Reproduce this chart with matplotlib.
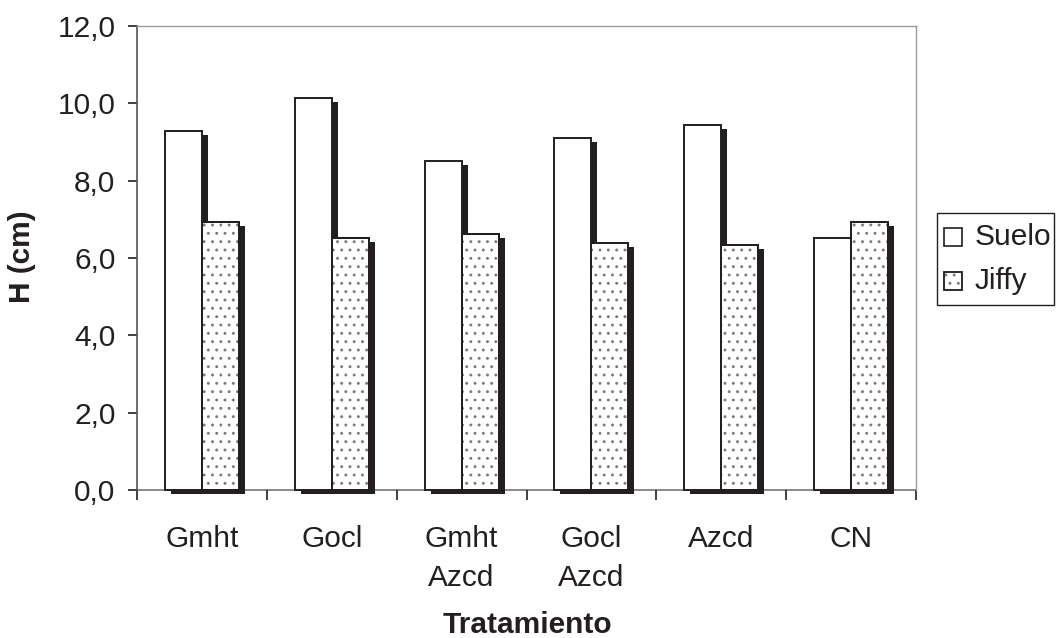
import matplotlib
matplotlib.use("Agg")
import matplotlib.pyplot as plt
import matplotlib.patheffects as pe
from matplotlib.patches import Rectangle
import numpy as np

plt.rcParams['font.family'] = ['Liberation Sans', 'DejaVu Sans']
plt.rcParams['hatch.linewidth'] = 0.9

categories = ['Gmht', 'Gocl', 'Gmht\nAzcd', 'Gocl\nAzcd', 'Azcd', 'CN']
suelo = [9.28, 10.14, 8.51, 9.10, 9.44, 6.52]
jiffy = [6.93, 6.52, 6.62, 6.39, 6.34, 6.93]
yticks = [0, 2, 4, 6, 8, 10, 12]
series_names = ['Suelo', 'Jiffy']

fs = 21.5
dark = '#231f20'
W, H = 1058, 638

fig = plt.figure(figsize=(10.58, 6.38), dpi=100)
ax = fig.add_axes([137 / W, 1 - 490 / H, (916 - 137) / W, (490 - 26) / H])

x = np.arange(len(categories)) + 0.5
w = 0.285
shadow = [pe.SimplePatchShadow(offset=(4.3, -2.9), shadow_rgbFace=dark, alpha=1.0),
          pe.Normal()]

# Suelo bars (plain white)
b1 = ax.bar(x - w / 2, suelo, w, color='white', edgecolor=dark, linewidth=1.4, zorder=2)
for p in b1:
    p.set_path_effects(shadow)
    p.set_clip_on(False)

# Jiffy bars: white + shadow, then grey dotted hatch, then dark outline
b2 = ax.bar(x + w / 2, jiffy, w, color='white', edgecolor=dark, linewidth=1.4, zorder=3)
for p in b2:
    p.set_path_effects(shadow)
    p.set_clip_on(False)
ax.bar(x + w / 2, jiffy, w, color='none', edgecolor='#7a7a7a', linewidth=0,
       hatch='..', zorder=4)
ax.bar(x + w / 2, jiffy, w, color='none', edgecolor=dark, linewidth=1.4, zorder=5)

ax.set_xlim(0, len(categories))
ax.set_ylim(0, 12)
ax.set_yticks(yticks)
ax.set_yticklabels([f'{v:.1f}'.replace('.', ',') for v in yticks], fontsize=fs)
ax.set_xticks(np.arange(len(categories) + 1))
ax.set_xticklabels([])
ax.set_xticks(x, minor=True)
ax.set_xticklabels(categories, minor=True, fontsize=fs, linespacing=1.5)
ax.tick_params(axis='x', which='minor', length=0, pad=25, labelcolor=dark)
ax.tick_params(axis='x', which='major', length=7.5, width=1.2, color=dark, direction='out')
ax.tick_params(axis='y', length=6.5, width=1.2, color=dark, pad=9, labelcolor=dark)

for s in ['top', 'right']:
    ax.spines[s].set_color('#999999')
    ax.spines[s].set_linewidth(1.0)
ax.spines['left'].set_color('#555555')
ax.spines['left'].set_linewidth(1.2)
ax.spines['bottom'].set_color('#777777')
ax.spines['bottom'].set_linewidth(1.2)
ax.spines['bottom'].set_zorder(1)

fig.text(22 / W, 1 - 257 / H, 'H (cm)', fontsize=fs, fontweight='bold', color=dark,
         rotation=90, ha='center', va='center')
fig.text(527 / W, 1 - 625 / H, 'Tratamiento', fontsize=fs, fontweight='bold', color=dark,
         ha='center', va='center')

# legend box drawn by hand to keep the tight layout of the original
fig.patches.append(Rectangle((937 / W, 1 - 305 / H), (1054 - 937) / W, (305 - 213) / H,
                             transform=fig.transFigure, facecolor='white',
                             edgecolor=dark, linewidth=1.0))
for i, (name, hatch) in enumerate(zip(series_names, [None, '..'])):
    cy = 237 + i * 44
    fig.patches.append(Rectangle((944 / W, 1 - (cy + 9) / H), 18 / W, 18 / H,
                                 transform=fig.transFigure, facecolor='white',
                                 edgecolor=dark if hatch is None else '#7a7a7a',
                                 hatch=hatch, linewidth=1.2))
    if hatch:
        fig.patches.append(Rectangle((944 / W, 1 - (cy + 9) / H), 18 / W, 18 / H,
                                     transform=fig.transFigure, facecolor='none',
                                     edgecolor=dark, linewidth=1.2))
    fig.text(975 / W, 1 - cy / H, name, fontsize=fs, color=dark, ha='left', va='center')

fig.savefig('out.png', dpi=100)
